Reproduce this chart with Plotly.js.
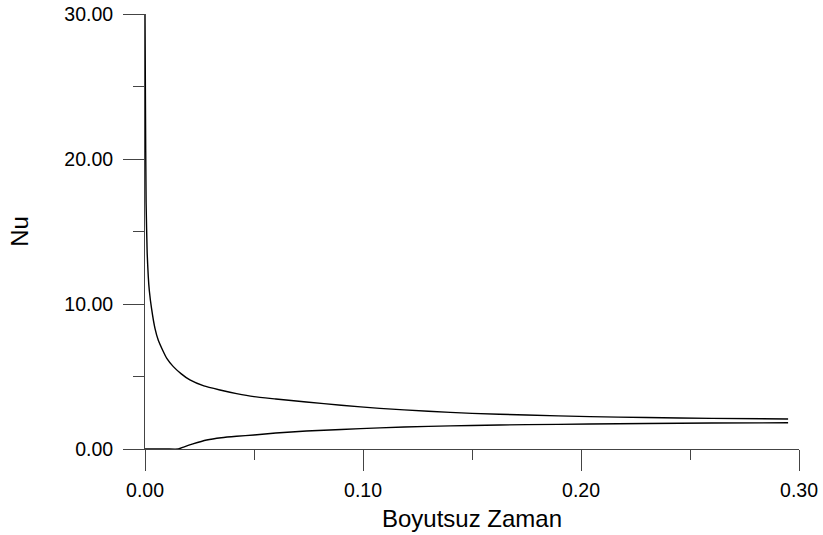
<!DOCTYPE html>
<html>
<head>
<meta charset="utf-8">
<script src="https://cdn.plot.ly/plotly-3.0.1.min.js"></script>
<style>html,body{margin:0;padding:0;background:#fff;}#chart{width:823px;height:535px;}</style>
</head>
<body>
<div id="chart"></div>
<script>
// Upper curve
const tUpper = [0, 0.0002, 0.0005, 0.001, 0.0015, 0.002, 0.003, 0.0046, 0.0061, 0.008, 0.010, 0.013, 0.0165, 0.0206, 0.027, 0.0344, 0.042, 0.05, 0.06, 0.074, 0.09, 0.1077, 0.13, 0.15, 0.175, 0.204, 0.23, 0.26, 0.295];
const nuUpper = [30, 24, 17, 13.5, 11.9, 10.9, 9.7, 8.3, 7.5, 6.85, 6.25, 5.68, 5.2, 4.76, 4.35, 4.07, 3.82, 3.61, 3.45, 3.24, 3.02, 2.8, 2.6, 2.46, 2.34, 2.23, 2.17, 2.11, 2.07];
// Lower curve
const tLower = [0, 0.005, 0.010, 0.0153, 0.018, 0.022, 0.0283, 0.035, 0.042, 0.05, 0.06, 0.074, 0.09, 0.1077, 0.13, 0.15, 0.175, 0.204, 0.23, 0.26, 0.295];
const nuLower = [0, 0, 0, 0, 0.15, 0.35, 0.62, 0.78, 0.88, 0.97, 1.1, 1.24, 1.35, 1.46, 1.56, 1.62, 1.68, 1.72, 1.76, 1.79, 1.81];

const xTitle = "Boyutsuz Zaman";
const yTitle = "Nu";

const font = "Liberation Sans, Arial, Helvetica, sans-serif";

const traces = [
  {x: tUpper, y: nuUpper, mode: 'lines', line: {color: '#000', width: 1.4, shape: 'spline', smoothing: 0.5}, hoverinfo: 'skip'},
  {x: tLower, y: nuLower, mode: 'lines', line: {color: '#000', width: 1.4, shape: 'spline', smoothing: 0.5}, hoverinfo: 'skip'}
];

const axisCommon = {
  showgrid: false, zeroline: false, showline: true, linecolor: '#444', linewidth: 1,
  ticks: 'outside', ticklen: 21, tickwidth: 1, tickcolor: '#444',
  tickfont: {family: font, size: 19.5, color: '#000'},
  tickformat: '.2f'
};

const layout = {
  width: 823, height: 535,
  margin: {l: 145, r: 24, t: 14, b: 86},
  paper_bgcolor: '#fff', plot_bgcolor: '#fff',
  showlegend: false,
  xaxis: Object.assign({}, axisCommon, {
    range: [0, 0.3], dtick: 0.1, tick0: 0,
    ticklabelstandoff: 3,
    minor: {dtick: 0.05, ticks: 'outside', ticklen: 10, tickcolor: '#444', tickwidth: 1, showgrid: false},
    title: {text: xTitle, font: {family: font, size: 24, color: '#000'}, standoff: 9}
  }),
  yaxis: Object.assign({}, axisCommon, {
    range: [0, 30], dtick: 10, tick0: 0,
    ticklabelstandoff: 6,
    minor: {dtick: 5, ticks: 'outside', ticklen: 11, tickcolor: '#444', tickwidth: 1, showgrid: false},
    title: {text: yTitle, font: {family: font, size: 24, color: '#000'}, standoff: 28}
  })
};

Plotly.newPlot('chart', traces, layout, {staticPlot: true, displayModeBar: false});
</script>
</body>
</html>
